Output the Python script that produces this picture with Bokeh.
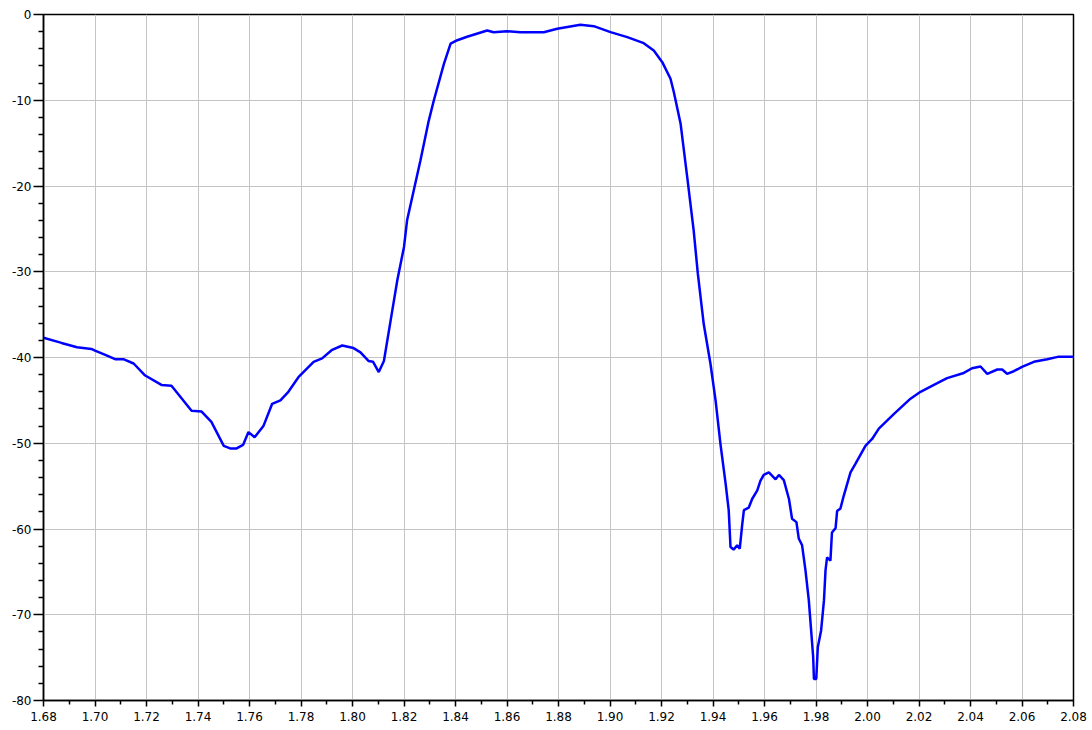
from bokeh.plotting import figure
from bokeh.models import Range1d, FixedTicker, PrintfTickFormatter
from bokeh.embed import file_html
from bokeh.resources import INLINE

# Frequency (GHz) and response (dB)
freq = [1.6800, 1.6870, 1.6930, 1.6986, 1.7000, 1.7040, 1.7078, 1.7110, 1.7150, 1.7195, 1.7258, 1.7297, 1.7375, 1.7414,
        1.7452, 1.7500, 1.7525, 1.7550, 1.7575, 1.7596, 1.7620, 1.7654, 1.7688, 1.7720,
        1.7751, 1.7790, 1.7849, 1.7882, 1.7921, 1.7960, 1.8004, 1.8031, 1.8062, 1.8080,
        1.8102, 1.8122, 1.8148, 1.8174, 1.8200, 1.8212, 1.8238, 1.8264, 1.8296, 1.8316,
        1.8355, 1.8381, 1.8407, 1.8445, 1.8523, 1.8548, 1.8600, 1.8652, 1.8743, 1.8795,
        1.8885, 1.8937, 1.9002, 1.9067, 1.9131, 1.9170, 1.9203, 1.9235, 1.9248, 1.9274,
        1.9300, 1.9325, 1.9341, 1.9364, 1.9390, 1.9410, 1.9429, 1.9449, 1.9461, 1.9468,
        1.9480, 1.9494, 1.9504, 1.9513, 1.9520, 1.9539, 1.9552, 1.9572, 1.9584, 1.9597,
        1.9617, 1.9643, 1.9656, 1.9675, 1.9695, 1.9707, 1.9724, 1.9733, 1.9746, 1.9759,
        1.9772, 1.9781, 1.9789, 1.9792, 1.9801, 1.9807, 1.9820, 1.9831, 1.9837, 1.9843,
        1.9856, 1.9862, 1.9876, 1.9882, 1.9895, 1.9908, 1.9934, 1.9953, 1.9992, 2.0018,
        2.0044, 2.0102, 2.0167, 2.0206, 2.0271, 2.0309, 2.0374, 2.0406, 2.0439, 2.0465,
        2.0504, 2.0523, 2.0542, 2.0568, 2.0600, 2.0646, 2.0698, 2.0743, 2.0800]
s21_db = [-37.7, -38.3, -38.8, -39.0, -39.2, -39.7, -40.2, -40.2, -40.7, -42.1, -43.2, -43.3, -46.2, -46.3,
          -47.5, -50.3, -50.6, -50.6, -50.2, -48.7, -49.3, -48.0, -45.4, -45.0,
          -44.0, -42.3, -40.5, -40.1, -39.1, -38.6, -38.9, -39.4, -40.4, -40.5,
          -41.7, -40.4, -35.7, -31.0, -27.1, -24.0, -20.5, -17.0, -12.4, -10.0,
          -5.75, -3.4, -3.0, -2.6, -1.87, -2.06, -1.95, -2.06, -2.06, -1.67,
          -1.2, -1.36, -2.06, -2.64, -3.34, -4.2, -5.56, -7.5, -9.06, -12.7,
          -19.0, -25.2, -30.2, -36.1, -40.7, -45.0, -50.1, -54.7, -57.8, -62.1,
          -62.4, -61.9, -62.3, -59.6, -57.8, -57.5, -56.5, -55.5, -54.4, -53.7,
          -53.4, -54.2, -53.7, -54.3, -56.5, -58.8, -59.2, -61.1, -61.9, -64.8,
          -68.3, -71.8, -74.9, -77.5, -77.5, -73.8, -71.8, -68.3, -64.8, -63.3,
          -63.7, -60.4, -59.9, -57.9, -57.6, -56.1, -53.4, -52.4, -50.3, -49.5,
          -48.3, -46.6, -44.8, -44.0, -43.0, -42.4, -41.8, -41.25, -41.05, -41.9,
          -41.4, -41.4, -41.9, -41.6, -41.1, -40.5, -40.2, -39.9, -39.9]

x_ticks = [1.68, 1.70, 1.72, 1.74, 1.76, 1.78, 1.80, 1.82, 1.84, 1.86, 1.88, 1.90,
           1.92, 1.94, 1.96, 1.98, 2.00, 2.02, 2.04, 2.06, 2.08]
x_minor = [1.69, 1.71, 1.73, 1.75, 1.77, 1.79, 1.81, 1.83, 1.85, 1.87, 1.89, 1.91,
           1.93, 1.95, 1.97, 1.99, 2.01, 2.03, 2.05, 2.07]
y_ticks = [0, -10, -20, -30, -40, -50, -60, -70, -80]
y_minor = [v for v in range(-80, 1, 2) if v % 10 != 0]

p = figure(width=1088, height=728, output_backend="svg", toolbar_location=None,
           x_range=Range1d(1.68, 2.08), y_range=Range1d(-80, 0),
           min_border_left=43, min_border_right=15, min_border_top=14, min_border_bottom=28)

p.line(freq, s21_db, line_color="#0000ff", line_width=2.5)

p.xaxis.ticker = FixedTicker(ticks=x_ticks, minor_ticks=x_minor)
p.yaxis.ticker = FixedTicker(ticks=y_ticks, minor_ticks=y_minor)
p.xaxis.formatter = PrintfTickFormatter(format="%.2f")
p.yaxis.major_label_overrides = {t: ("%d" % t) for t in y_ticks}

for ax in (p.xaxis, p.yaxis):
    ax.axis_line_color = "black"
    ax.axis_line_width = 1.5
    ax.major_tick_line_color = "black"
    ax.minor_tick_line_color = "black"
    ax.major_tick_line_width = 1.5
    ax.minor_tick_line_width = 1.5
    ax.major_tick_in = 0
    ax.minor_tick_in = 0
    ax.major_label_text_font = "DejaVu Sans"
    ax.major_label_text_font_size = "12px"
    ax.major_label_text_color = "black"

p.xaxis.major_tick_out = 6
p.xaxis.minor_tick_out = 4
p.xaxis.major_label_standoff = 5
p.yaxis.major_tick_out = 10
p.yaxis.minor_tick_out = 5
p.yaxis.major_label_standoff = 2

p.grid.grid_line_color = "#c4c4c4"
p.grid.grid_line_width = 1
p.outline_line_color = "black"
p.outline_line_width = 1.5
p.background_fill_color = "white"
p.border_fill_color = "white"

open("out.html", "w").write(file_html(p, INLINE))
